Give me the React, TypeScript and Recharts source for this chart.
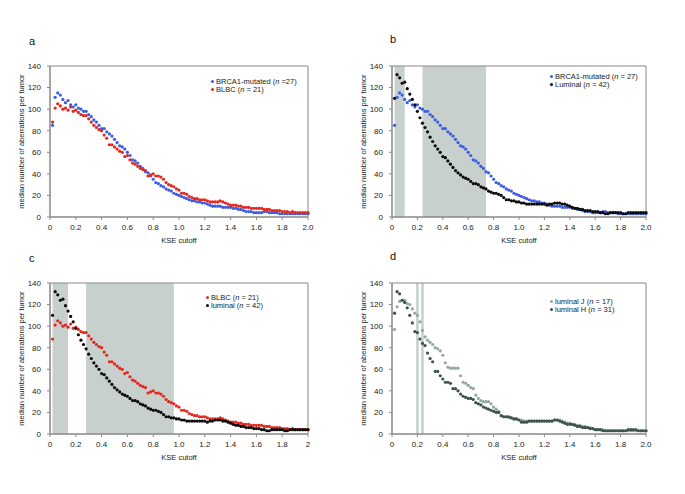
import React from 'react';
import { ScatterChart, Scatter, XAxis, YAxis, ReferenceArea, Legend } from 'recharts';

// KSE cutoff values (x) shared by every series
const kseCutoff = [
  0.02, 0.04, 0.06, 0.08, 0.1, 0.12, 0.14, 0.16, 0.18, 0.2,
  0.22, 0.24, 0.26, 0.28, 0.3, 0.32, 0.34, 0.36, 0.38, 0.4,
  0.42, 0.44, 0.46, 0.48, 0.5, 0.52, 0.54, 0.56, 0.58, 0.6,
  0.62, 0.64, 0.66, 0.68, 0.7, 0.72, 0.74, 0.76, 0.78, 0.8,
  0.82, 0.84, 0.86, 0.88, 0.9, 0.92, 0.94, 0.96, 0.98, 1.0,
  1.02, 1.04, 1.06, 1.08, 1.1, 1.12, 1.14, 1.16, 1.18, 1.2,
  1.22, 1.24, 1.26, 1.28, 1.3, 1.32, 1.34, 1.36, 1.38, 1.4,
  1.42, 1.44, 1.46, 1.48, 1.5, 1.52, 1.54, 1.56, 1.58, 1.6,
  1.62, 1.64, 1.66, 1.68, 1.7, 1.72, 1.74, 1.76, 1.78, 1.8,
  1.82, 1.84, 1.86, 1.88, 1.9, 1.92, 1.94, 1.96, 1.98, 2.0,
];

const brca1Mutated = [
  85, 111, 115, 113, 109, 106, 108, 104, 102, 104,
  101, 100, 98, 98, 95, 93, 90, 88, 85, 82,
  82, 79, 77, 75, 72, 69, 66, 65, 63, 60,
  57, 53, 52, 50, 47, 45, 42, 41, 38, 35,
  32, 31, 29, 28, 26, 25, 24, 22, 21, 20,
  19, 18, 17, 16, 15, 15, 14, 14, 13, 13,
  12, 11, 10, 10, 10, 10, 9, 9, 9, 9,
  8, 8, 7, 7, 6, 5, 5, 5, 4, 4,
  4, 4, 5, 5, 4, 4, 4, 4, 3, 3,
  3, 3, 3, 3, 3, 3, 3, 3, 3, 3,
];

const blbc = [
  88, 101, 105, 103, 100, 101, 99, 102, 98, 99,
  97, 95, 94, 94, 91, 88, 85, 83, 81, 80,
  76, 73, 67, 67, 65, 63, 61, 60, 56, 57,
  53, 50, 49, 47, 45, 44, 43, 38, 39, 40,
  38, 38, 37, 35, 32, 30, 29, 28, 26, 25,
  22, 22, 21, 19, 18, 17, 17, 16, 16, 16,
  15, 14, 14, 14, 14, 15, 14, 13, 12, 11,
  11, 11, 10, 10, 9, 9, 9, 8, 8, 8,
  8, 8, 7, 7, 7, 6, 6, 6, 6, 5,
  5, 5, 4, 5, 4, 4, 4, 4, 4, 4,
];

const luminal = [
  110, 132, 129, 124, 125, 119, 114, 109, 104, 98,
  92, 87, 83, 79, 74, 70, 66, 63, 60, 56,
  55, 52, 49, 46, 43, 41, 39, 37, 36, 35,
  33, 31, 31, 30, 28, 27, 26, 24, 23, 22,
  22, 21, 20, 18, 16, 16, 15, 15, 14, 14,
  13, 13, 12, 12, 12, 12, 12, 12, 12, 12,
  11, 12, 12, 13, 13, 13, 12, 12, 11, 10,
  9, 8, 8, 7, 7, 6, 6, 6, 5, 5,
  5, 4, 4, 3, 3, 4, 4, 4, 4, 4,
  3, 3, 4, 4, 4, 4, 4, 4, 4, 4,
];

const luminalJ = [
  97, 118, 123, 124, 124, 121, 120, 116, 112, 110,
  104, 96, 90, 87, 85, 83, 80, 79, 77, 73,
  66, 62, 61, 61, 61, 61, 54, 48, 47, 45,
  43, 42, 36, 33, 31, 30, 30, 30, 28, 25,
  23, 21, 17, 16, 16, 15, 15, 14, 14, 13,
  13, 12, 12, 12, 12, 12, 12, 12, 12, 12,
  12, 12, 12, 13, 13, 13, 12, 11, 10, 10,
  9, 9, 8, 8, 7, 7, 6, 6, 5, 4,
  4, 4, 4, 3, 3, 3, 3, 3, 3, 3,
  3, 3, 3, 3, 3, 3, 3, 3, 3, 3,
];

const luminalH = [
  112, 132, 130, 124, 122, 117, 110, 103, 95, 94,
  88, 84, 82, 75, 70, 67, 58, 58, 54, 51,
  48, 48, 47, 42, 42, 40, 37, 35, 34, 33,
  33, 32, 29, 28, 27, 25, 24, 23, 22, 21,
  20, 20, 17, 16, 16, 16, 15, 14, 14, 13,
  11, 11, 11, 12, 12, 12, 12, 12, 12, 12,
  12, 12, 12, 13, 13, 12, 11, 10, 9, 9,
  9, 8, 7, 7, 6, 6, 6, 5, 5, 4,
  4, 4, 3, 3, 3, 3, 3, 3, 3, 3,
  3, 3, 4, 4, 4, 4, 3, 3, 3, 3,
];

const xTicks = [0, 0.2, 0.4, 0.6, 0.8, 1.0, 1.2, 1.4, 1.6, 1.8, 2.0];
const yTicks = [0, 20, 40, 60, 80, 100, 120, 140];

// shaded KSE ranges per panel
const shadesB = [[0.02, 0.1], [0.24, 0.74]];
const shadesC = [[0.02, 0.14], [0.28, 0.96]];
const shadesD = [[0.19, 0.21], [0.23, 0.25]];

const BLUE = '#3b5de3';
const RED = '#e2281f';
const BLACK = '#0a0a0a';
const LUM_J = '#93a8a1';
const LUM_H = '#3c524d';

const FONT = '"Liberation Sans", Arial, sans-serif';
const FS = 7.5;

type Series = { key: string; label: React.ReactNode; values: number[]; color: string };

const toPoints = (values: number[]) => kseCutoff.map((x, i) => ({ x, y: values[i] }));

const nLabel = (name: string, n: string) => (
  <>
    {name} (<i>n</i> {n})
  </>
);

interface PanelProps {
  left: number;
  top: number;
  marginRight: number;
  series: Series[];
  shades: number[][];
  legendLeft: number;
  legendTop: number;
  shortLastTick?: boolean;
}

const Panel: React.FC<PanelProps> = ({ left, top, marginRight, series, shades, legendLeft, legendTop, shortLastTick }) => {
  const tickStyle = { fontSize: 8, fill: '#222', fontFamily: FONT };
  return (
    <div style={{ position: 'absolute', left, top, width: 320, height: 200 }}>
      <ScatterChart width={320} height={200} margin={{ top: 10, right: marginRight, left: 0, bottom: 0 }}>
        {shades.map(([a, b]) => (
          <ReferenceArea key={a} x1={a} x2={b} y1={0} y2={140} fill="#c7d0cd" fillOpacity={1} stroke="none" />
        ))}
        <XAxis
          type="number"
          dataKey="x"
          domain={[0, 2]}
          ticks={xTicks}
          height={39}
          tickSize={3}
          tickMargin={4}
          interval={0}
          stroke="#888"
          tick={tickStyle}
          tickFormatter={(v: number) => (v === 0 ? '0' : shortLastTick && v === 2 ? '2' : v.toFixed(1))}
          label={{ value: 'KSE cutoff', position: 'insideBottom', offset: 13, style: { fontSize: FS, fill: '#222', fontFamily: FONT } }}
        />
        <YAxis
          type="number"
          dataKey="y"
          domain={[0, 140]}
          ticks={yTicks}
          width={50}
          tickSize={3}
          tickMargin={6}
          interval={0}
          stroke="#888"
          tick={tickStyle}
          label={{
            value: 'median number of aberrations per tumor',
            angle: -90,
            position: 'insideLeft',
            offset: 21,
            style: { fontSize: FS, fill: '#222', fontFamily: FONT, textAnchor: 'middle' },
          }}
        />
        {series.map((s) => (
          <Scatter
            key={s.key}
            data={toPoints(s.values)}
            fill={s.color}
            isAnimationActive={false}
            shape={(p: any) => <circle cx={p.cx} cy={p.cy} r={1.6} fill={s.color} />}
          />
        ))}
        <ReferenceArea x1={0} x2={2} y1={0} y2={140} fill="none" stroke="#888" strokeWidth={1} />
        <Legend
          layout="horizontal"
          verticalAlign="middle"
          align="center"
          wrapperStyle={{ left: legendLeft, top: legendTop, width: 'auto', height: 'auto' }}
          content={() => (
            <div style={{ fontFamily: FONT, fontSize: FS, color: '#222', lineHeight: '7.5px' }}>
              {series.map((s) => (
                <div key={s.key} style={{ display: 'flex', alignItems: 'center', whiteSpace: 'nowrap' }}>
                  <span style={{ width: 3, height: 3, borderRadius: 2, background: s.color, marginRight: 2, display: 'inline-block' }} />
                  <span>{s.label}</span>
                </div>
              ))}
            </div>
          )}
        />
      </ScatterChart>
    </div>
  );
};

const letterStyle: React.CSSProperties = {
  position: 'absolute',
  fontFamily: FONT,
  fontSize: 11,
  lineHeight: '11px',
  color: '#111',
};

export default function App() {
  return (
    <div style={{ position: 'absolute', left: 0, top: 0, width: 685, height: 494, background: '#fff', overflow: 'hidden' }}>
      <div style={{ ...letterStyle, left: 29, top: 36 }}>a</div>
      <div style={{ ...letterStyle, left: 390, top: 34 }}>b</div>
      <div style={{ ...letterStyle, left: 29, top: 253 }}>c</div>
      <div style={{ ...letterStyle, left: 390, top: 251 }}>d</div>

      <Panel
        left={0}
        top={56}
        marginRight={12}
        shades={[]}
        legendLeft={211}
        legendTop={22}
        series={[
          { key: 'brca1', label: nLabel('BRCA1-mutated', '=27'), values: brca1Mutated, color: BLUE },
          { key: 'blbc', label: nLabel('BLBC', '= 21'), values: blbc, color: RED },
        ]}
      />
      <Panel
        left={342}
        top={56}
        marginRight={16}
        shades={shadesB}
        legendLeft={208}
        legendTop={17}
        series={[
          { key: 'brca1', label: nLabel('BRCA1-mutated', '= 27'), values: brca1Mutated, color: BLUE },
          { key: 'lum', label: nLabel('Luminal', '= 42'), values: luminal, color: BLACK },
        ]}
      />
      <Panel
        left={0}
        top={273}
        marginRight={12}
        shades={shadesC}
        legendLeft={206}
        legendTop={21}
        shortLastTick
        series={[
          { key: 'blbc', label: nLabel('BLBC', '= 21'), values: blbc, color: RED },
          { key: 'lum', label: nLabel('luminal', '= 42'), values: luminal, color: BLACK },
        ]}
      />
      <Panel
        left={342}
        top={273}
        marginRight={16}
        shades={shadesD}
        legendLeft={208}
        legendTop={25}
        series={[
          { key: 'lumJ', label: nLabel('luminal J', '= 17'), values: luminalJ, color: LUM_J },
          { key: 'lumH', label: nLabel('luminal H', '= 31'), values: luminalH, color: LUM_H },
        ]}
      />
    </div>
  );
}
